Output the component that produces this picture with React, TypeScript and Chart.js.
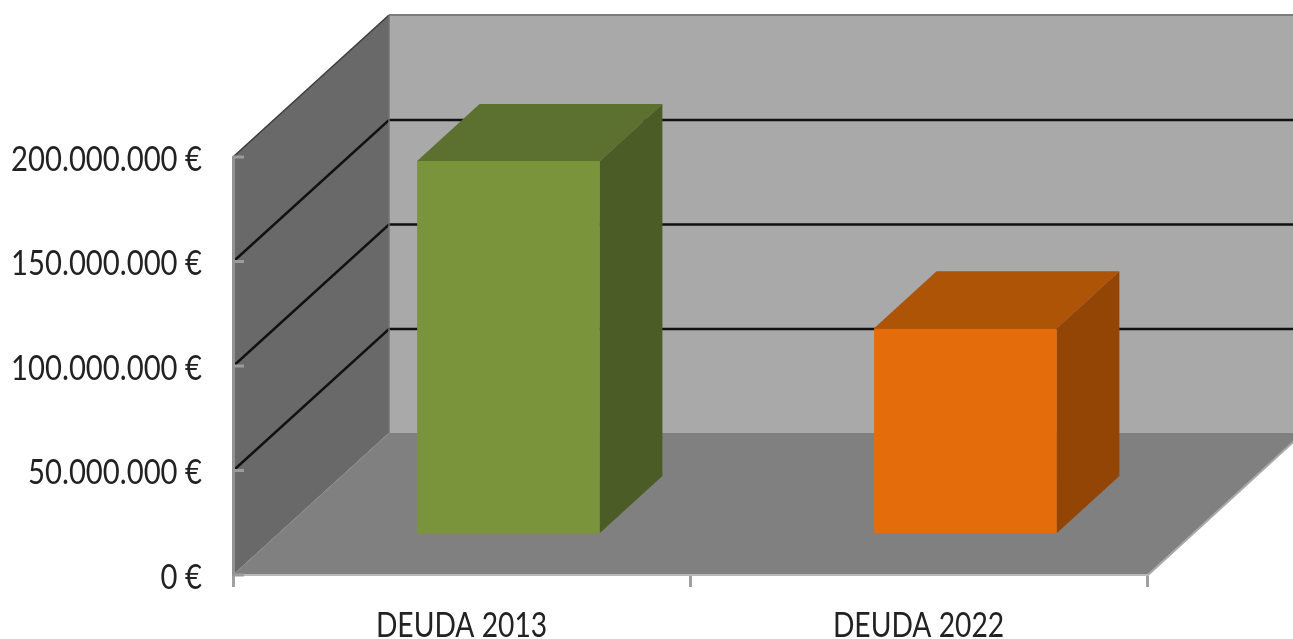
import React, { useEffect, useRef } from "react";
import { Chart, registerables } from "chart.js";

Chart.register(...registerables);

const categories = ["DEUDA 2013", "DEUDA 2022"];
const debtValues = [178000000, 98000000];
const yTickValues = [0, 50000000, 100000000, 150000000, 200000000];
const frontColors = ["#7A943C", "#E46C0A"];
const topColors = ["#5C7030", "#AE5407"];
const sideColors = ["#4C5C26", "#934506"];

const FONT = "Lato, 'Open Sans', sans-serif";
const Y_TEXT_SQUEEZE = 0.86;
const X_TEXT_SQUEEZE = 0.83;
const TEXT_DROP = 3;
const WALL_DX = 156;
const WALL_DY = -142;
const BAR_DX = 47;
const BAR_DY = -42;
const BAR_DEPTH_X = 62.5;
const BAR_DEPTH_Y = -57;

function poly(ctx: CanvasRenderingContext2D, pts: number[][], fill: string) {
  ctx.beginPath();
  pts.forEach((p, i) => (i ? ctx.lineTo(p[0], p[1]) : ctx.moveTo(p[0], p[1])));
  ctx.closePath();
  ctx.fillStyle = fill;
  ctx.fill();
}

function seg(ctx: CanvasRenderingContext2D, pts: number[][], color: string, w: number) {
  ctx.beginPath();
  pts.forEach((p, i) => (i ? ctx.lineTo(p[0], p[1]) : ctx.moveTo(p[0], p[1])));
  ctx.strokeStyle = color;
  ctx.lineWidth = w;
  ctx.stroke();
}

const walls3D = {
  id: "walls3D",
  beforeDraw(chart: any) {
    const { ctx, chartArea: a, scales } = chart;
    const y = scales.y;
    const { left: l, right: r, top: t, bottom: b } = a;
    ctx.save();
    poly(ctx, [[l + WALL_DX, t + WALL_DY], [r + WALL_DX, t + WALL_DY], [r + WALL_DX, b + WALL_DY], [l + WALL_DX, b + WALL_DY]], "#A9A9A9");
    poly(ctx, [[l, t], [l + WALL_DX, t + WALL_DY], [l + WALL_DX, b + WALL_DY], [l, b]], "#696969");
    poly(ctx, [[l, b], [l + WALL_DX, b + WALL_DY], [r + WALL_DX, b + WALL_DY], [r, b]], "#808080");
    yTickValues.forEach((v) => {
      const py = y.getPixelForValue(v);
      if (v === 0) return;
      if (v === yTickValues[yTickValues.length - 1]) {
        seg(ctx, [[l, py], [l + WALL_DX, py + WALL_DY]], "#3c3c3c", 1.5);
        seg(ctx, [[l + WALL_DX, py + WALL_DY], [r + WALL_DX, py + WALL_DY]], "#7c7c7c", 2);
      } else {
        seg(ctx, [[l + 2, py - 1.5], [l + WALL_DX, py + WALL_DY + 0.5], [r + WALL_DX, py + WALL_DY + 0.5]], "#111111", 2.4);
      }
    });
    seg(ctx, [[l, b], [l + WALL_DX, b + WALL_DY]], "#8c8c8c", 1);
    seg(ctx, [[l + WALL_DX, t + WALL_DY], [l + WALL_DX, b + WALL_DY]], "#737373", 1.5);
    seg(ctx, [[r + 1, b], [r + WALL_DX, b + WALL_DY]], "#a8a8a8", 2);
    ctx.restore();
  },
  afterDraw(chart: any) {
    const { ctx, chartArea: a, scales } = chart;
    ctx.save();
    yTickValues.forEach((v) => {
      const py = scales.y.getPixelForValue(v);
      seg(ctx, [[a.left + 1, py], [a.left + 11, py]], "#9c9c9c", 3);
    });
    ctx.restore();
  },
  beforeDatasetsDraw(chart: any) {
    const { ctx } = chart;
    ctx.save();
    ctx.translate(BAR_DX, BAR_DY);
  },
  afterDatasetsDraw(chart: any) {
    const { ctx } = chart;
    const meta = chart.getDatasetMeta(0);
    meta.data.forEach((bar: any, i: number) => {
      const { x, y, base, width } = bar.getProps(["x", "y", "base", "width"], true);
      const x0 = x - width / 2;
      const x1 = x + width / 2;
      const dx = BAR_DEPTH_X;
      const dy = BAR_DEPTH_Y;
      poly(ctx, [[x0, y], [x0 + dx, y + dy], [x1 + dx, y + dy], [x1, y]], topColors[i]);
      poly(ctx, [[x1, y], [x1 + dx, y + dy], [x1 + dx, base + dy], [x1, base]], sideColors[i]);
    });
    ctx.restore();
  },
};

// Tick text is narrower than any installed face: squeeze it about its anchor.
function squeezeText(ctx: any) {
  const original = ctx.fillText;
  ctx.fillText = function (text: string, x: number, y: number) {
    this.save();
    this.translate(x, y + TEXT_DROP);
    this.scale(this.textAlign === "center" ? X_TEXT_SQUEEZE : Y_TEXT_SQUEEZE, 1);
    original.call(this, text, 0, 0);
    this.restore();
  };
}

export default function App() {
  const ref = useRef<HTMLCanvasElement>(null);
  useEffect(() => {
    if (!ref.current) return;
    squeezeText(ref.current.getContext("2d"));
    const chart = new Chart(ref.current, {
      type: "bar",
      plugins: [walls3D],
      data: {
        labels: categories,
        datasets: [
          {
            data: debtValues,
            backgroundColor: frontColors,
            borderWidth: 0,
            barPercentage: 0.4,
            categoryPercentage: 1,
            clip: false as any,
          },
        ],
      },
      options: {
        responsive: false,
        animation: false,
        devicePixelRatio: 1,
        layout: { padding: { top: 157, right: 146, left: 0, bottom: 0 } },
        plugins: { legend: { display: false }, tooltip: { enabled: false } },
        scales: {
          x: {
            afterFit(s: any) { s.height = 64; },
            border: { display: true, color: "#b8b8b8", width: 2 },
            grid: { drawOnChartArea: false, drawTicks: true, tickLength: 12, color: "#a0a0a0", lineWidth: 3 },
            ticks: { color: "#222222", font: { family: FONT, size: 34 }, padding: 16, maxRotation: 0 },
          },
          y: {
            min: 0,
            max: 200000000,
            afterFit(s: any) { s.width = 233; },
            afterBuildTicks(s: any) { s.ticks = yTickValues.map((value) => ({ value })); },
            border: { display: true, color: "#929292", width: 3 },
            grid: { display: false, drawTicks: false },
            ticks: {
              color: "#222222",
              font: { family: FONT, size: 34 },
              padding: 31,
              callback: (v: any) => String(v).replace(/\B(?=(\d{3})+$)/g, ".") + " €",
            },
          },
        },
      },
    });
    return () => chart.destroy();
  }, []);
  return (
    <div style={{ position: "fixed", left: 0, top: 0, width: 1293, height: 639, background: "#fff" }}>
      <canvas ref={ref} width={1293} height={639} style={{ display: "block" }} />
    </div>
  );
}
